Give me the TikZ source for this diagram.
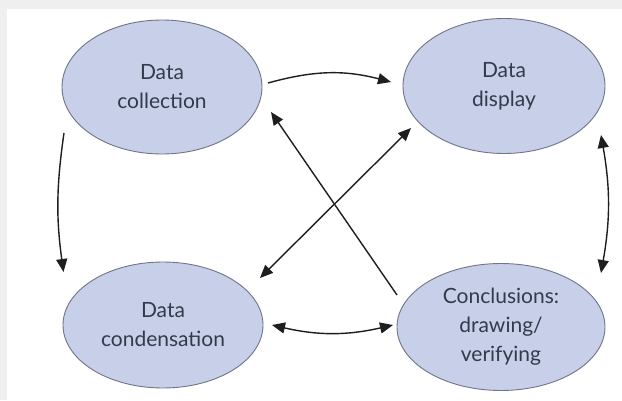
\documentclass[tikz,border=0pt]{standalone}
\usepackage{fontspec}
\setmainfont{Lato}
\usetikzlibrary{shapes.geometric,arrows.meta,calc}
\definecolor{ellfill}{HTML}{C8CFE8}
\definecolor{elldraw}{HTML}{6E7588}
\definecolor{txt}{HTML}{323B4C}
\definecolor{bggray}{HTML}{EFEFEF}
\definecolor{arrcol}{HTML}{1E1E1E}
\begin{document}
\begin{tikzpicture}[x=1pt,y=1pt,
 ell/.style={ellipse, draw=elldraw, line width=0.9pt, fill=ellfill, inner sep=0pt, text=txt, font=\fontsize{21}{29}\selectfont, align=center},
 arr/.style={draw=arrcol, line width=1.4pt, -{Triangle[length=13pt,width=11pt]}},
 darr/.style={draw=arrcol, line width=1.4pt, {Triangle[length=13pt,width=11pt]}-{Triangle[length=13pt,width=11pt]}}]
\useasboundingbox (0,0) rectangle (622,400);
\fill[bggray] (0,0) rectangle (622,400);
\fill[white] (7,0) rectangle (622,391);

\node[ell, minimum width=200pt, minimum height=134pt] (col) at (162,313) {Data\\collection};
\node[ell, minimum width=202pt, minimum height=135pt] (disp) at (504,314) {Data\\display};
\node[ell, minimum width=200pt, minimum height=126pt] (cond) at (163,75) {Data\\condensation};
\node[ell, minimum width=208pt, minimum height=127pt] (conc) at (501,73) {Conclusions:\\drawing/\\verifying};

\draw[arr] ($(col)+(106,4)$) to[bend left=15] ($(disp)+(-113,4)$);
\draw[arr] ($(col)+(-98,-46)$) to[bend right=8] ($(cond)+(-99.5,53)$);
\draw[darr] ($(disp)+(97,-49)$) to[bend left=10] ($(conc)+(100,54)$);
\draw[darr] ($(cond)+(109,0)$) to[bend right=13] ($(conc)+(-108,2)$);
\draw[darr] ($(disp)+(-93,-42)$) -- ($(cond)+(97,47)$);
\draw[arr] ($(conc)+(-104,32)$) -- ($(col)+(109,-25)$);
\end{tikzpicture}
\end{document}
